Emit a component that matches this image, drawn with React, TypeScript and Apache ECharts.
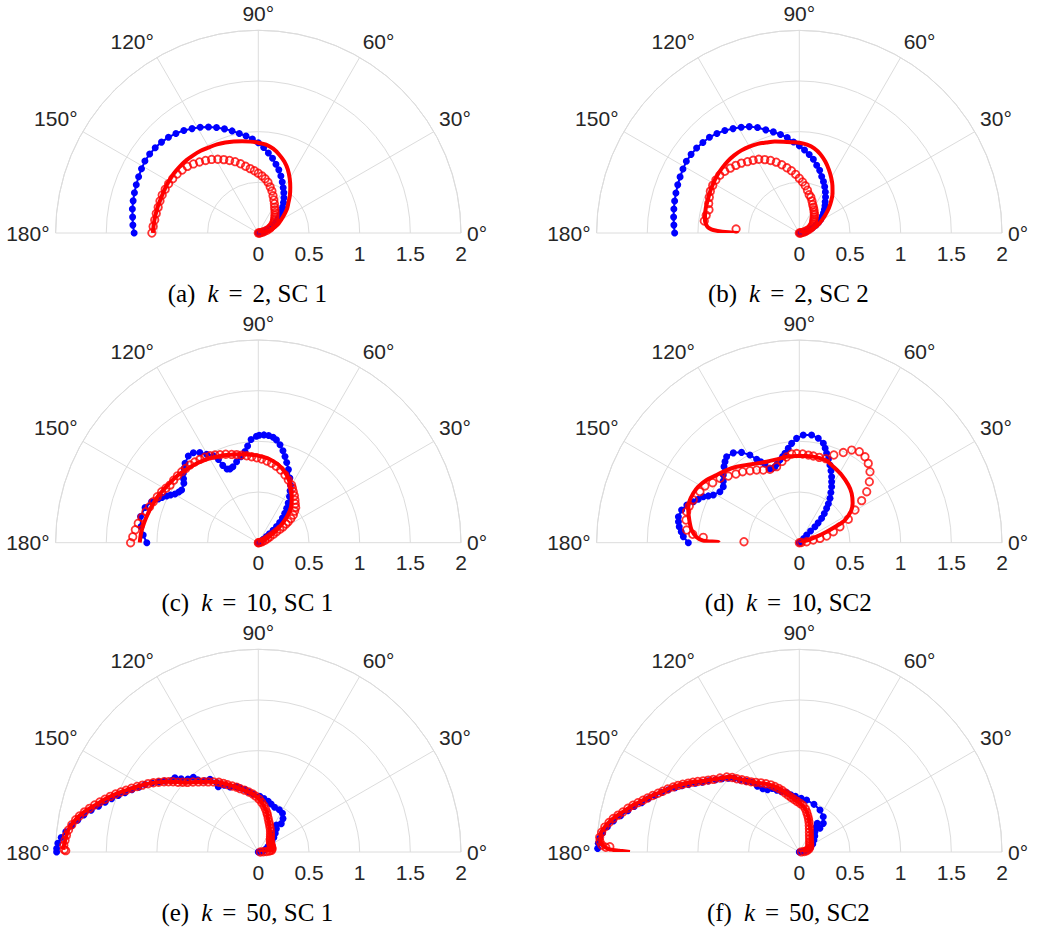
import React, { useEffect, useRef } from "react";
import * as echarts from "echarts";

// Each point is [radius, angle in degrees].
type Pt = [number, number];

// ---------- axis ranges ----------
const RADIUS_MIN = 0;
const RADIUS_MAX = 2;
const RADIUS_STEP = 0.5;
const ANGLE_MIN = 0;
const ANGLE_MAX = 180;
const ANGLE_STEP = 30;

// ---------- panel captions ----------
const panelTags = ["(a)", "(b)", "(c)", "(d)", "(e)", "(f)"];
const kValues = ["2", "2", "10", "10", "50", "50"];
const schemes = ["SC 1", "SC 2", "SC 1", "SC2", "SC 1", "SC2"];

// ---------- (a) k = 2, SC 1 ----------
const blueA: Pt[] = [[0,0],[0.005,3.6],[0.015,7.2],[0.03,10.8],[0.045,14.4],[0.065,18],[0.09,21.6],[0.13,25.2],[0.17,28.8],[0.21,32.4],[0.245,36],[0.28,39.6],[0.315,43.2],[0.35,46.8],[0.39,50.4],[0.43,54],[0.47,57.6],[0.51,61.2],[0.555,64.8],[0.605,68.4],[0.655,72],[0.7,75.6],[0.75,79.2],[0.795,82.8],[0.845,86.4],[0.89,90],[0.93,93.6],[0.965,97.2],[1.0,100.8],[1.04,104.4],[1.08,108],[1.12,111.6],[1.155,115.2],[1.19,118.8],[1.22,122.4],[1.25,126],[1.275,129.6],[1.295,133.2],[1.31,136.8],[1.32,140.4],[1.325,144],[1.325,147.6],[1.315,151.2],[1.305,154.8],[1.295,158.4],[1.285,162],[1.275,165.6],[1.265,169.2],[1.25,172.8],[1.24,176.4],[1.225,180]];
const redLineA: Pt[] = [[0,0],[0.03,5],[0.08,10],[0.13,15],[0.175,20],[0.22,25],[0.26,30],[0.31,35],[0.37,40],[0.42,45],[0.485,50],[0.55,55],[0.62,60],[0.69,65],[0.75,70],[0.8,75],[0.845,80],[0.875,85],[0.89,90],[0.905,95],[0.92,100],[0.935,105],[0.95,110],[0.965,115],[0.975,120],[0.99,125],[1.0,130],[1.01,135],[1.015,140],[1.02,145],[1.02,150],[1.02,155],[1.02,160],[1.025,165],[1.03,170],[1.035,175],[1.04,180]];
const redMarkA: Pt[] = [[0,0],[0.01,3.6],[0.02,7.2],[0.04,10.8],[0.06,14.4],[0.09,18],[0.12,21.6],[0.14,25.2],[0.16,28.8],[0.18,32.4],[0.195,36],[0.21,39.6],[0.225,43.2],[0.24,46.8],[0.26,50.4],[0.28,54],[0.3,57.6],[0.33,61.2],[0.36,64.8],[0.395,68.4],[0.435,72],[0.47,75.6],[0.51,79.2],[0.54,82.8],[0.565,86.4],[0.59,90],[0.615,93.6],[0.64,97.2],[0.67,100.8],[0.705,104.4],[0.74,108],[0.77,111.6],[0.8,115.2],[0.83,118.8],[0.86,122.4],[0.885,126],[0.91,129.6],[0.935,133.2],[0.96,136.8],[0.975,140.4],[0.99,144],[1.0,147.6],[1.01,151.2],[1.015,154.8],[1.02,158.4],[1.02,162],[1.02,165.6],[1.025,169.2],[1.03,172.8],[1.04,176.4],[1.05,180]];

// ---------- (b) k = 2, SC 2 ----------
const blueB: Pt[] = [[0,0],[0.01,3.6],[0.025,7.2],[0.045,10.8],[0.07,14.4],[0.1,18],[0.14,21.6],[0.18,25.2],[0.215,28.8],[0.25,32.4],[0.28,36],[0.31,39.6],[0.34,43.2],[0.37,46.8],[0.4,50.4],[0.44,54],[0.48,57.6],[0.52,61.2],[0.56,64.8],[0.6,68.4],[0.65,72],[0.69,75.6],[0.74,79.2],[0.78,82.8],[0.82,86.4],[0.86,90],[0.9,93.6],[0.95,97.2],[0.99,100.8],[1.03,104.4],[1.07,108],[1.12,111.6],[1.16,115.2],[1.19,118.8],[1.22,122.4],[1.25,126],[1.275,129.6],[1.295,133.2],[1.305,136.8],[1.315,140.4],[1.32,144],[1.32,147.6],[1.31,151.2],[1.3,154.8],[1.29,158.4],[1.28,162],[1.27,165.6],[1.26,169.2],[1.25,172.8],[1.24,176.4],[1.23,180]];
const redLineB: Pt[] = [[0,0],[0.03,5],[0.07,10],[0.12,15],[0.17,20],[0.215,25],[0.26,30],[0.315,35],[0.38,40],[0.445,45],[0.51,50],[0.57,55],[0.63,60],[0.69,65],[0.75,70],[0.805,75],[0.848,80],[0.875,85],[0.89,90],[0.9,95],[0.915,100],[0.935,105],[0.95,110],[0.97,115],[0.985,120],[0.995,125],[1.0,130],[1.0,135],[0.995,140],[0.99,145],[0.98,150],[0.97,155],[0.96,160],[0.955,165],[0.945,170],[0.94,172],[0.93,174],[0.91,176],[0.89,177],[0.85,178],[0.76,179],[0.6,180]];
const redMarkB: Pt[] = [[0,0],[0.01,3.6],[0.02,7.2],[0.04,10.8],[0.06,14.4],[0.08,18],[0.11,21.6],[0.13,25.2],[0.145,28.8],[0.16,32.4],[0.175,36],[0.185,39.6],[0.2,43.2],[0.215,46.8],[0.235,50.4],[0.25,54],[0.27,57.6],[0.29,61.2],[0.31,64.8],[0.34,68.4],[0.37,72],[0.39,75.6],[0.43,79.2],[0.47,82.8],[0.505,86.4],[0.54,90],[0.58,93.6],[0.62,97.2],[0.655,100.8],[0.695,104.4],[0.735,108],[0.77,111.6],[0.8,115.2],[0.83,118.8],[0.85,122.4],[0.87,126],[0.895,129.6],[0.915,133.2],[0.935,136.8],[0.955,140.4],[0.97,144],[0.975,147.6],[0.975,151.2],[0.97,154.8],[0.955,158.4],[0.94,162],[0.92,165.6],[0.935,169.2],[0.945,172.8],[0.625,176.4]];

// ---------- (c) k = 10, SC 1 ----------
const blueC: Pt[] = [[0,0],[0.01,20],[0.03,30],[0.06,35],[0.1,37],[0.14,38.5],[0.19,40],[0.24,41.5],[0.29,43.5],[0.34,45.5],[0.39,48],[0.44,50.5],[0.49,53],[0.55,56],[0.6,58.5],[0.65,60.7],[0.71,64],[0.78,67.6],[0.84,70.5],[0.89,72.8],[0.94,75],[0.99,77.5],[1.03,80],[1.05,82],[1.062,84.5],[1.065,87],[1.06,89.5],[1.05,91],[1.02,94],[0.96,96.3],[0.91,98.3],[0.865,101.5],[0.827,105],[0.79,108.5],[0.78,111],[0.79,113],[0.84,114.7],[0.91,115.6],[0.965,117.4],[1.01,120.3],[1.06,123],[1.095,125.8],[1.1,128.9],[1.066,132.7],[1.035,135],[1.008,137.2],[0.97,139.5],[0.94,141.4],[0.918,145.5],[0.93,147.5],[0.952,149.7],[0.985,151.5],[1.015,153],[1.05,154.8],[1.077,156.4],[1.128,159],[1.17,162.7],[1.19,167.5],[1.168,172.2],[1.138,176.2],[1.1,180]];
const redLineC: Pt[] = [[0,0],[0.005,5],[0.01,10],[0.02,15],[0.04,20],[0.07,25],[0.13,30],[0.23,35],[0.335,40],[0.435,45],[0.51,50],[0.575,55],[0.64,60],[0.7,65],[0.75,70],[0.79,75],[0.82,80],[0.843,85],[0.857,90],[0.872,95],[0.885,100],[0.902,105],[0.92,110],[0.94,115],[0.962,120],[0.98,125],[0.998,130],[1.015,135],[1.035,140],[1.05,145],[1.068,150],[1.09,155],[1.108,160],[1.125,165],[1.143,170],[1.16,175],[1.17,180]];
const redMarkC: Pt[] = [[0,0],[0.005,5],[0.02,10],[0.04,15],[0.07,20],[0.1,24],[0.13,27],[0.17,29],[0.21,31],[0.25,32],[0.29,32.6],[0.33,34],[0.36,35],[0.4,36.5],[0.44,38.3],[0.475,41],[0.507,43.4],[0.53,46.5],[0.555,49.3],[0.585,52.5],[0.61,55.5],[0.635,58],[0.657,60],[0.685,64.4],[0.718,68.5],[0.75,72.9],[0.775,76.8],[0.794,80.5],[0.81,84],[0.826,87.7],[0.838,91],[0.851,94.4],[0.865,97.6],[0.88,100.8],[0.895,103.8],[0.91,106.8],[0.93,110.2],[0.947,113.5],[0.965,116.3],[0.982,119],[0.995,122],[1.004,125],[1.013,128.2],[1.02,131.3],[1.025,134.3],[1.03,137.2],[1.035,140.4],[1.038,143.6],[1.04,146.9],[1.058,149.5],[1.078,152.2],[1.095,155.5],[1.112,158.7],[1.13,161.7],[1.15,164.6],[1.175,167.7],[1.2,170.8],[1.22,174],[1.24,177.3],[1.26,180]];

// ---------- (d) k = 10, SC2 ----------
const blueD: Pt[] = [[0,0],[0.01,20],[0.03,35],[0.06,44],[0.105,46.3],[0.16,46],[0.22,45.6],[0.27,46.5],[0.326,47.5],[0.38,49.5],[0.433,51.5],[0.48,53.3],[0.532,55.3],[0.585,57.8],[0.638,60],[0.68,62],[0.725,63.9],[0.775,66.2],[0.824,68.5],[0.875,70.8],[0.922,73],[0.967,74.7],[1.009,76.4],[1.047,79.7],[1.07,83.5],[1.063,87.9],[1.03,91.5],[0.983,94.4],[0.937,96.7],[0.893,99.1],[0.865,101],[0.838,103.2],[0.81,105.5],[0.787,107.8],[0.78,110],[0.785,111.8],[0.847,113.6],[0.885,115.4],[0.924,117.1],[0.993,119.4],[1.058,122.6],[1.1,126.3],[1.111,130.2],[1.085,132.5],[1.056,134.7],[1.004,138.3],[0.965,141],[0.932,143.6],[0.931,147.3],[0.97,151],[1.01,152.8],[1.05,154.4],[1.085,156.7],[1.12,158.9],[1.17,161.5],[1.205,164.5],[1.22,167.9],[1.21,170.2],[1.195,172.4],[1.17,174.7],[1.146,177],[1.095,180]];
const redLineD: Pt[] = [[0,0],[0.02,8],[0.075,15.3],[0.181,19.1],[0.291,21.9],[0.403,24.1],[0.503,26.4],[0.592,31.1],[0.654,36.4],[0.71,43.3],[0.747,49.6],[0.788,58],[0.822,65.9],[0.853,71.6],[0.859,78.5],[0.858,85.2],[0.856,91.8],[0.858,98.4],[0.852,105.2],[0.862,112],[0.889,118.3],[0.926,124.1],[0.972,129.5],[1.014,135],[1.054,140.7],[1.104,145.9],[1.14,151],[1.154,155],[1.159,159.6],[1.142,163.6],[1.108,168.4],[1.07,173.3],[1.014,177],[0.947,178.8],[0.8,179.5],[0.79,180]];
const redMarkD: Pt[] = [[0,0],[0.02,5],[0.073,7.8],[0.14,10.8],[0.208,11.8],[0.278,13.7],[0.353,17.9],[0.431,21.5],[0.536,25.5],[0.637,30.4],[0.742,34],[0.834,37.1],[0.916,41],[0.988,45.1],[1.037,49],[1.067,52.6],[1.076,56.6],[1.05,60.5],[0.99,64],[0.93,68.5],[0.87,72.5],[0.865,76.8],[0.866,80.8],[0.869,84.1],[0.876,87.8],[0.88,91.7],[0.878,94.9],[0.855,98.5],[0.82,102],[0.783,106.6],[0.78,111.8],[0.8,116.4],[0.832,120.4],[0.861,124.4],[0.896,128.6],[0.922,132.7],[0.961,136.8],[1.008,140.9],[1.04,145.3],[1.086,149],[1.102,152.8],[1.128,158],[1.144,161.6],[1.153,164.6],[1.14,168.7],[1.119,173.6],[1.055,175.5],[0.949,176.8],[0.546,179]];

// ---------- (e) k = 50, SC 1 ----------
const blueE: Pt[] = [[0,0],[0.02,5],[0.05,12],[0.08,22],[0.11,30],[0.14,35],[0.17,38],[0.21,43],[0.25,48],[0.29,52],[0.32,56],[0.36,51],[0.41,53.5],[0.45,58],[0.465,63.5],[0.47,70],[0.49,75],[0.51,79],[0.53,84],[0.55,88.5],[0.575,95],[0.6,99],[0.63,102],[0.66,106],[0.68,108.5],[0.7,113.5],[0.74,117],[0.756,121.5],[0.8,121],[0.861,123.6],[0.88,127],[0.93,130],[0.977,131],[1.0,134],[1.05,136.5],[1.102,138.3],[1.11,140.5],[1.16,142.8],[1.2,144.8],[1.25,147],[1.3,149.2],[1.34,151.5],[1.39,153.8],[1.44,156],[1.49,158],[1.54,160],[1.59,162],[1.64,164],[1.7,166],[1.76,168],[1.81,170],[1.86,172],[1.91,174],[1.95,175.8],[1.98,177.5],[1.99,179],[1.99,180]];
const redLineE: Pt[] = [[0,0],[0.06,3],[0.12,5],[0.14,12],[0.145,25],[0.155,37],[0.175,47],[0.21,56],[0.25,63],[0.29,68],[0.331,72.6],[0.406,78.3],[0.466,83.9],[0.53,90],[0.583,96.5],[0.63,103.6],[0.685,109.7],[0.74,115],[0.804,120.8],[0.861,126.3],[0.921,131.4],[0.984,136],[1.061,139.4],[1.14,142.5],[1.216,145.6],[1.29,148.7],[1.363,151.8],[1.436,154.8],[1.512,157.6],[1.588,160.5],[1.664,163.5],[1.744,166.3],[1.81,168.9],[1.854,171.2],[1.887,173.4],[1.905,175.9],[1.92,178.2],[1.93,179.2]];
const redMarkE: Pt[] = [[0.02,2],[0.05,3],[0.08,4],[0.11,5],[0.13,7],[0.14,12],[0.14,18],[0.142,24],[0.145,30],[0.15,36],[0.16,42],[0.175,47.5],[0.195,52],[0.215,56],[0.24,60],[0.265,64],[0.29,67.5],[0.315,70.5],[0.345,73.5],[0.375,76],[0.4,78],[0.43,80.5],[0.46,83],[0.49,86],[0.52,89],[0.55,92.5],[0.575,95.5],[0.6,99],[0.625,102.5],[0.65,106],[0.675,108.5],[0.7,111.5],[0.73,114.5],[0.76,117],[0.79,119.5],[0.82,122.5],[0.85,125.5],[0.88,128],[0.91,130.5],[0.945,133],[0.98,135.5],[1.015,137.3],[1.05,139],[1.09,140.5],[1.125,142],[1.16,143.3],[1.2,145],[1.24,146.6],[1.28,148.2],[1.32,150],[1.36,151.6],[1.4,153.3],[1.44,155],[1.48,156.4],[1.52,157.9],[1.56,159.4],[1.6,161],[1.64,162.5],[1.68,164],[1.72,165.5],[1.76,167],[1.8,168.6],[1.83,170],[1.86,171.7],[1.885,173.4],[1.9,175],[1.91,176.5],[1.92,178],[1.915,179.3],[1.9,179.6]];

// ---------- (f) k = 50, SC2 ----------
const blueF: Pt[] = [[0,0],[0.03,8],[0.057,13],[0.09,18],[0.121,22.4],[0.155,31],[0.187,39.3],[0.22,46],[0.253,52.4],[0.3,56],[0.334,57.9],[0.31,48.9],[0.369,50],[0.421,55.8],[0.462,63.8],[0.492,72.9],[0.518,82],[0.53,88],[0.55,94],[0.57,98.5],[0.6,102],[0.62,106.5],[0.65,110],[0.68,113],[0.69,117],[0.72,120],[0.77,122.5],[0.83,124],[0.87,126.8],[0.92,129.5],[0.97,131.5],[1.01,133.8],[1.05,136.5],[1.09,139.2],[1.14,142],[1.18,144.3],[1.23,146.5],[1.28,148.6],[1.33,150.6],[1.38,152.6],[1.43,154.6],[1.48,156.6],[1.53,158.6],[1.58,160.6],[1.63,162.6],[1.69,164.6],[1.74,166.5],[1.8,168.5],[1.86,170.5],[1.91,172.5],[1.95,174.5],[1.975,176],[1.985,177.5],[1.99,179]];
const redLineF: Pt[] = [[0,0],[0.03,5],[0.074,10.3],[0.118,26.6],[0.175,50.3],[0.271,67.2],[0.36,75.7],[0.435,82.6],[0.48,89.2],[0.522,95.8],[0.573,100.9],[0.636,105.9],[0.688,110.4],[0.744,115.7],[0.803,121.6],[0.875,126.4],[0.954,130.4],[1.01,132.6],[1.049,135.6],[1.111,139.8],[1.178,143.5],[1.254,146.6],[1.327,149.6],[1.4,152.6],[1.471,155.8],[1.547,158.7],[1.623,161.6],[1.703,164.2],[1.782,167.1],[1.865,169.7],[1.934,172.6],[1.968,175.1],[1.963,177],[1.928,178.4],[1.869,179.2],[1.77,179.6],[1.671,180]];
const redMarkF: Pt[] = [[0.02,3],[0.05,6],[0.075,10],[0.095,16],[0.11,22],[0.12,30],[0.13,38],[0.145,45],[0.165,52],[0.19,58],[0.22,63],[0.25,66.5],[0.28,69.5],[0.31,72],[0.34,74.5],[0.37,77],[0.4,79.5],[0.43,82],[0.46,85.5],[0.48,89],[0.5,92.5],[0.52,95.5],[0.545,98.5],[0.57,101],[0.6,103.5],[0.63,105.5],[0.66,108],[0.69,110.5],[0.72,113],[0.75,116],[0.78,119],[0.81,122],[0.84,124.5],[0.875,126.5],[0.91,128.5],[0.95,130.5],[0.99,132],[1.03,134],[1.07,137],[1.11,139.8],[1.145,141.7],[1.18,143.5],[1.22,145.2],[1.255,146.7],[1.29,148.2],[1.33,149.8],[1.365,151.2],[1.4,152.7],[1.44,154.4],[1.475,156],[1.51,157.4],[1.55,158.9],[1.59,160.4],[1.625,161.7],[1.665,163],[1.705,164.3],[1.745,165.7],[1.785,167.2],[1.825,168.5],[1.865,169.8],[1.9,171.2],[1.935,172.7],[1.96,174.3],[1.975,175.8],[1.97,177],[1.95,178],[1.91,178.6],[1.87,178.4]];

const blueSets = [blueA, blueB, blueC, blueD, blueE, blueF];
const redLineSets = [redLineA, redLineB, redLineC, redLineD, redLineE, redLineF];
const redMarkSets = [redMarkA, redMarkB, redMarkC, redMarkD, redMarkE, redMarkF];

// ---------- layout ----------
const WIDTH = 1039;
const HEIGHT = 932;
const COL_X = [258.3, 799.3];
const ROW_Y = [233, 542.7, 852];
const POLAR_RADIUS = 202.7;
const CAPTION_SHIFT_X = -11;
const CAPTION_OFFSET_Y = 60;

const GRID_COLOR = "#dcdcdc";
const LABEL_COLOR = "#262626";
const BLUE = "#0000ff";
const RED = "#ff0000";
const SANS = '"Liberation Sans", Arial, Helvetica, sans-serif';
const SERIF = '"Liberation Serif", "Times New Roman", serif';
const CAPTION_SIZE = 25;

function buildOption(): echarts.EChartsOption {
  const polar: any[] = [];
  const angleAxis: any[] = [];
  const radiusAxis: any[] = [];
  const series: any[] = [];
  const graphic: any[] = [];

  for (let i = 0; i < 6; i++) {
    const cx = COL_X[i % 2];
    const cy = ROW_Y[Math.floor(i / 2)];
    polar.push({ center: [cx, cy], radius: POLAR_RADIUS });

    angleAxis.push({
      polarIndex: i,
      type: "value",
      min: ANGLE_MIN,
      max: ANGLE_MAX,
      interval: ANGLE_STEP,
      startAngle: 0,
      endAngle: 180,
      clockwise: false,
      axisLine: { show: true, lineStyle: { color: GRID_COLOR, width: 1 } },
      axisTick: { show: false },
      axisLabel: {
        show: true,
        margin: 6,
        formatter: "{value}°",
        fontFamily: SANS,
        fontSize: 21,
        color: LABEL_COLOR,
      },
      splitLine: { show: true, lineStyle: { color: GRID_COLOR, width: 1 } },
    });

    radiusAxis.push({
      polarIndex: i,
      type: "value",
      min: RADIUS_MIN,
      max: RADIUS_MAX,
      interval: RADIUS_STEP,
      axisLine: { show: false },
      axisTick: { show: false },
      axisLabel: {
        show: true,
        margin: -20,
        verticalAlign: "middle",
        fontFamily: SANS,
        fontSize: 21,
        color: LABEL_COLOR,
      },
      splitLine: { show: true, lineStyle: { color: GRID_COLOR, width: 1 } },
    });

    // blue trace: line with filled dots
    series.push({
      type: "line",
      coordinateSystem: "polar",
      polarIndex: i,
      data: blueSets[i],
      symbol: "circle",
      symbolSize: 7,
      showSymbol: true,
      showAllSymbol: true,
      lineStyle: { color: BLUE, width: 2 },
      itemStyle: { color: BLUE },
      silent: true,
      z: 3,
    });
    // red trace: thick solid line
    series.push({
      type: "line",
      coordinateSystem: "polar",
      polarIndex: i,
      data: redLineSets[i],
      symbol: "none",
      smooth: 0.3,
      lineStyle: { color: RED, width: 4 },
      silent: true,
      z: 4,
    });
    // red trace: open circles
    series.push({
      type: "scatter",
      coordinateSystem: "polar",
      polarIndex: i,
      data: redMarkSets[i],
      symbol: "circle",
      symbolSize: 7.5,
      itemStyle: { color: "rgba(255,255,255,0)", borderColor: RED, borderWidth: 1.8 },
      silent: true,
      z: 5,
    });

    graphic.push({
      type: "text",
      x: cx + CAPTION_SHIFT_X,
      y: cy + CAPTION_OFFSET_Y,
      style: {
        text: `{t|${panelTags[i]}}{k|k}{e|=}{t|${kValues[i]}, ${schemes[i]}}`,
        align: "center",
        verticalAlign: "middle",
        fill: "#000",
        font: `${CAPTION_SIZE}px ${SERIF}`,
        rich: {
          t: { fontFamily: SERIF, fontSize: CAPTION_SIZE, fill: "#000" },
          k: { fontFamily: SERIF, fontSize: CAPTION_SIZE, fontStyle: "italic", fill: "#000", padding: [0, 0, 0, 12] },
          e: { fontFamily: SERIF, fontSize: CAPTION_SIZE, fill: "#000", padding: [0, 10, 0, 10] },
        },
      },
    });
  }

  return {
    animation: false,
    backgroundColor: "#ffffff",
    polar,
    angleAxis,
    radiusAxis,
    series,
    graphic,
  } as echarts.EChartsOption;
}

export default function App() {
  const ref = useRef<HTMLDivElement>(null);

  useEffect(() => {
    if (!ref.current) return;
    const chart = echarts.init(ref.current, undefined, { renderer: "svg" });
    chart.setOption(buildOption());
    return () => chart.dispose();
  }, []);

  return (
    <div
      ref={ref}
      style={{ position: "fixed", left: 0, top: 0, width: WIDTH, height: HEIGHT, background: "#fff" }}
    />
  );
}
